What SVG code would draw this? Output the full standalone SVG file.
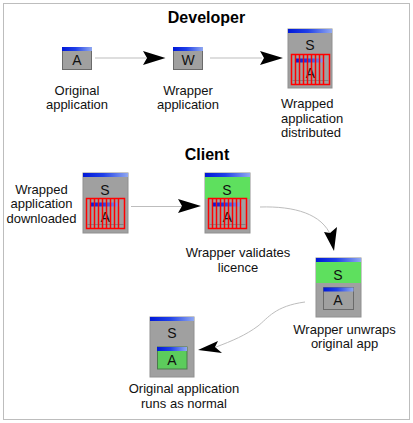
<svg xmlns="http://www.w3.org/2000/svg" width="413" height="423" viewBox="0 0 413 423">
<style>
text{font-family:"Liberation Sans",Arial,sans-serif;font-size:13px;fill:#111;text-anchor:middle}
.h{font-size:16px;font-weight:bold;fill:#000}
.l{font-size:14px}
.s{text-anchor:start}
.box{fill:#a0a0a0;stroke:#909090;stroke-width:1}
.app{fill:#a0a0a0;stroke:#6a6a6a;stroke-width:1}
.gr{fill:#5ee05e}
.appg{fill:#5ccc5c;stroke:#4a7a4a;stroke-width:1}
.bar{fill:url(#b)}
.c{fill:none;stroke:#bdbdbd;stroke-width:1}
.a{fill:#000;stroke:none}
.r{fill:none;stroke:#ff0000;stroke-width:1.5}
</style>
<defs>
<linearGradient id="b"><stop offset="0" stop-color="#0018d8"/><stop offset="0.45" stop-color="#2040e8"/><stop offset="1" stop-color="#90a8f0"/></linearGradient>
<g id="wrap">
<rect x="0" y="0" width="38" height="30" fill="#a0a0a0"/>
<line x1="1" y1="26" x2="37" y2="26" stroke="#808080"/>
<rect x="4" y="4" width="29" height="4" fill="url(#b)"/>
<text x="19" y="23" class="l">A</text>
<path class="r" d="M0 0h38v30H0zM4 0v30M8 0v30M12 0v30M16 0v30M20 0v30M24 0v30M28 0v30M32 0v30"/>
</g>
</defs>
<rect width="413" height="423" fill="#fff"/>
<rect x="3.500" y="3.500" width="406" height="416" fill="none" stroke="#bdbdbd" stroke-width="1"/>
<text class="h" x="206.500" y="23">Developer</text>
<text class="h" x="207" y="160">Client</text>
<g id="connectors">
<path class="c" d="M95 58H146"/><path class="a" d="M165.500 58L143 51L147 58L143 65Z"/>
<path class="c" d="M210 58H262"/><path class="a" d="M283 58L260 51L264 58L260 65Z"/>
<path class="c" d="M131 206.500H182"/><path class="a" d="M201 206L178 199L182 206L178 213Z"/>
<path class="c" d="M260 207C295 206 322 214 331 236"/><path class="a" d="M334 251L324 232L330 233L337 227Z"/>
<path class="c" d="M305 302C275 306 268 318 258 326C246 335 232 341 216 347"/><path class="a" d="M198 350L218 341L215 347L222 353Z"/>
</g>
<g id="n-original">
<rect class="app" x="62.500" y="47.500" width="29" height="22"/><rect class="bar" x="62" y="47" width="30" height="4"/>
<text class="l" x="77" y="65">A</text>
<text x="77" y="95">Original</text><text x="77" y="109">application</text>
</g>
<g id="n-wrapper">
<rect class="app" x="173.500" y="47.500" width="29" height="22"/><rect class="bar" x="173" y="47" width="30" height="4"/>
<text class="l" x="188" y="65">W</text>
<text x="188" y="95">Wrapper</text><text x="188" y="109">application</text>
</g>
<g id="n-distributed">
<rect class="box" x="288" y="29" width="44" height="59"/><rect class="bar" x="288" y="29" width="44" height="4"/>
<text class="l" x="310" y="50">S</text>
<use href="#wrap" x="291.500" y="54.500"/>
<text class="s" x="281" y="108">Wrapped</text><text class="s" x="281" y="123">application</text><text class="s" x="281" y="137">distributed</text>
</g>
<g id="n-downloaded">
<rect class="box" x="83" y="173" width="45" height="60"/><rect class="bar" x="83" y="173" width="45" height="4"/>
<text class="l" x="105" y="195">S</text>
<use href="#wrap" x="86.500" y="198.500"/>
<text x="41.500" y="194">Wrapped</text><text x="41.500" y="208">application</text><text x="41.500" y="223">downloaded</text>
</g>
<g id="n-validates">
<rect class="box" x="205" y="173" width="45" height="60"/><rect class="gr" x="205" y="176" width="45" height="23"/><rect class="bar" x="205" y="173" width="45" height="4"/>
<text class="l" x="227" y="195">S</text>
<use href="#wrap" x="208.500" y="198.500"/>
<text x="238" y="257">Wrapper validates</text><text x="238" y="272">licence</text>
</g>
<g id="n-unwraps">
<rect class="box" x="316" y="258" width="45" height="59"/><rect class="gr" x="316" y="262" width="45" height="21"/><rect class="bar" x="316" y="258" width="45" height="4"/>
<text class="l" x="338" y="280">S</text>
<rect class="app" x="323.500" y="287.500" width="30" height="22"/><rect class="bar" x="323.500" y="287.500" width="30" height="4"/>
<text class="l" x="338" y="305">A</text>
<text x="344.500" y="334">Wrapper unwraps</text><text x="344.500" y="348">original app</text>
</g>
<g id="n-runs">
<rect class="box" x="150" y="317" width="44" height="60"/><rect class="bar" x="150" y="317" width="44" height="4"/>
<text class="l" x="172" y="338">S</text>
<rect class="appg" x="157.500" y="347" width="29.500" height="22"/><rect class="bar" x="157" y="347" width="30" height="4"/>
<text class="l" x="172" y="365">A</text>
<text x="184" y="393">Original application</text><text x="184" y="408">runs as normal</text>
</g>
</svg>
